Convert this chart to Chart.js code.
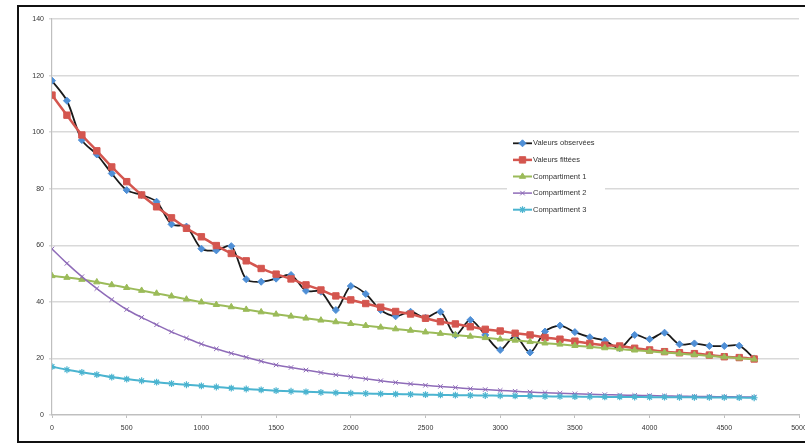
<!DOCTYPE html>
<html>
<head>
<meta charset="utf-8">
<script src="https://cdn.jsdelivr.net/npm/chart.js@4.4.0/dist/chart.umd.min.js"></script>
<style>
  html, body { margin: 0; padding: 0; background: #fff; overflow: hidden; }
  #wrap { position: relative; width: 805px; height: 445px; }
  #frame { position: absolute; left: 17px; top: 5px; width: 800px; height: 434px; border: 2px solid #111; border-right: none; box-sizing: content-box; }
  #c { position: absolute; left: 0; top: 0; }
</style>
</head>
<body>
<div id="wrap">
  <div id="frame"></div>
  <canvas id="c" width="805" height="445"></canvas>
</div>
<script>
// ---- data ----
const times = [0,100,200,300,400,500,600,700,800,900,1000,1100,1200,1300,1400,1500,1600,1700,1800,1900,2000,2100,2200,2300,2400,2500,2600,2700,2800,2900,3000,3100,3200,3300,3400,3500,3600,3700,3800,3900,4000,4100,4200,4300,4400,4500,4600,4700];

const seriesNames = ["Valeurs observées", "Valeurs fittées", "Compartiment 1", "Compartiment 2", "Compartiment 3"];

const observed = [118.2,111.1,97.2,92.1,85.4,79.5,77.8,75.4,67.4,66.6,58.8,58.2,59.7,48.0,47.1,48.2,49.5,43.9,43.6,37.1,45.6,42.8,37.1,34.9,36.5,34.4,36.5,28.3,33.6,28.3,23.0,28.0,22.1,29.5,31.6,29.3,27.5,26.3,23.6,28.3,26.8,29.1,25.0,25.3,24.4,24.4,24.5,20.0];

const fitted = [113.1,106.0,99.0,93.4,87.7,82.5,77.8,73.6,69.7,66.0,63.0,59.9,57.1,54.5,51.8,49.8,48.1,46.0,44.2,42.1,40.7,39.4,38.1,36.6,35.7,34.2,33.0,32.2,31.2,30.3,29.7,28.9,28.3,27.4,26.8,26.1,25.3,24.7,24.4,23.6,23.0,22.4,22.0,21.7,21.2,20.6,20.3,19.8];

const comp1 = [49.2,48.6,47.9,47.0,46.0,45.0,44.0,43.0,42.0,40.9,39.9,39.0,38.2,37.3,36.4,35.6,34.9,34.2,33.5,32.9,32.3,31.6,31.0,30.4,29.9,29.3,28.8,28.3,27.8,27.3,26.8,26.4,25.9,25.4,25.0,24.5,24.1,23.7,23.3,22.9,22.5,22.1,21.7,21.3,20.9,20.5,20.1,19.7];

const comp2 = [58.7,53.6,48.9,44.7,40.8,37.3,34.5,31.9,29.4,27.2,25.1,23.4,21.8,20.4,19.0,17.7,16.8,15.9,15.0,14.2,13.5,12.8,12.1,11.5,11.0,10.5,10.1,9.7,9.3,9.0,8.7,8.4,8.1,7.9,7.7,7.5,7.35,7.2,7.05,6.95,6.85,6.75,6.65,6.55,6.5,6.45,6.4,6.35];

const comp3 = [17.1,16.0,15.1,14.3,13.4,12.7,12.1,11.6,11.1,10.7,10.3,9.9,9.5,9.2,8.9,8.6,8.4,8.2,8.0,7.85,7.7,7.6,7.5,7.4,7.3,7.2,7.1,7.0,6.95,6.9,6.8,6.75,6.7,6.6,6.55,6.5,6.45,6.4,6.4,6.35,6.3,6.3,6.25,6.25,6.2,6.2,6.15,6.1];

const xTicks = [0,500,1000,1500,2000,2500,3000,3500,4000,4500,5000];
const yTicks = [0,20,40,60,80,100,120,140];

// ---- build ----
const pts = arr => arr.map((v, i) => ({ x: times[i], y: v }));

const styles = [
  { line: '#1a1a1a', fill: '#4F8FD6', stroke: '#4F8FD6', style: 'rectRot', r: 3.5, w: 1.8, pw: 1 },
  { line: '#D4564F', fill: '#D4564F', stroke: '#D4564F', style: 'rect', r: 4.5, w: 2.5, pw: 1 },
  { line: '#9BBB59', fill: '#9BBB59', stroke: '#9BBB59', style: 'triangle', r: 3.6, w: 2, pw: 1 },
  { line: '#8E6BB8', fill: '#8E6BB8', stroke: '#8E6BB8', style: 'crossRot', r: 3.2, w: 1.5, pw: 1 },
  { line: '#4BB4D0', fill: '#4BB4D0', stroke: '#4BB4D0', style: 'star', r: 3.4, w: 2, pw: 1.2 }
];
const seriesData = [observed, fitted, comp1, comp2, comp3];

const datasets = seriesData.map((d, i) => ({
  label: seriesNames[i],
  data: pts(d),
  borderColor: styles[i].line,
  borderWidth: styles[i].w,
  pointStyle: styles[i].style,
  pointRadius: styles[i].r,
  pointBackgroundColor: styles[i].fill,
  pointBorderColor: styles[i].stroke,
  pointBorderWidth: styles[i].pw,
  tension: 0.3,
  fill: false,
  order: 5 - i
}));

const legendPlugin = {
  id: 'customLegend',
  afterDraw(chart) {
    const ctx = chart.ctx;
    ctx.save();
    ctx.fillStyle = '#ffffff';
    ctx.fillRect(507, 135, 98, 83);
    ctx.font = '7.5px "Liberation Sans", Arial, sans-serif';
    ctx.textBaseline = 'middle';
    ctx.textAlign = 'left';
    datasets.forEach((ds, i) => {
      const y = 143.3 + i * 16.6;
      ctx.strokeStyle = ds.borderColor;
      ctx.lineWidth = ds.borderWidth;
      ctx.beginPath();
      ctx.moveTo(513, y);
      ctx.lineTo(532, y);
      ctx.stroke();
      ctx.fillStyle = ds.pointBackgroundColor;
      ctx.strokeStyle = ds.pointBorderColor;
      ctx.lineWidth = ds.pointBorderWidth;
      Chart.helpers.drawPoint(ctx, { pointStyle: ds.pointStyle, radius: ds.pointRadius, rotation: 0, borderWidth: ds.pointBorderWidth }, 522.5, y);
      ctx.fillStyle = '#333';
      ctx.fillText(ds.label, 533, y);
    });
    ctx.restore();
  }
};

new Chart(document.getElementById('c'), {
  type: 'line',
  data: { datasets },
  options: {
    responsive: false,
    animation: false,
    devicePixelRatio: 1,
    layout: { padding: { top: 19, right: 6, bottom: 10, left: 0 } },
    plugins: { legend: { display: false }, tooltip: { enabled: false } },
    scales: {
      x: {
        type: 'linear',
        min: 0, max: 5000,
        afterBuildTicks: s => { s.ticks = xTicks.map(v => ({ value: v })); },
        afterFit: s => { s.height = 20; s.paddingLeft = 0; s.paddingRight = 0; },
        ticks: { callback: v => String(v), font: { size: 7, family: '"Liberation Sans", Arial, sans-serif' }, color: '#333', padding: 6, maxRotation: 0, autoSkip: false },
        grid: { drawOnChartArea: false, tickLength: 3, color: '#bfbfbf' },
        border: { color: '#bfbfbf', width: 1.2 }
      },
      y: {
        min: 0, max: 140,
        afterBuildTicks: s => { s.ticks = yTicks.map(v => ({ value: v })); },
        afterFit: s => { s.width = 52; s.paddingTop = 0; s.paddingBottom = 0; },
        ticks: { callback: v => String(v), font: { size: 7, family: '"Liberation Sans", Arial, sans-serif' }, color: '#333', padding: 5 },
        grid: { color: '#d9d9d9', lineWidth: 1.5, tickLength: 3 },
        border: { color: '#bfbfbf', width: 1.2 }
      }
    }
  },
  plugins: [legendPlugin]
});
</script>
</body>
</html>
